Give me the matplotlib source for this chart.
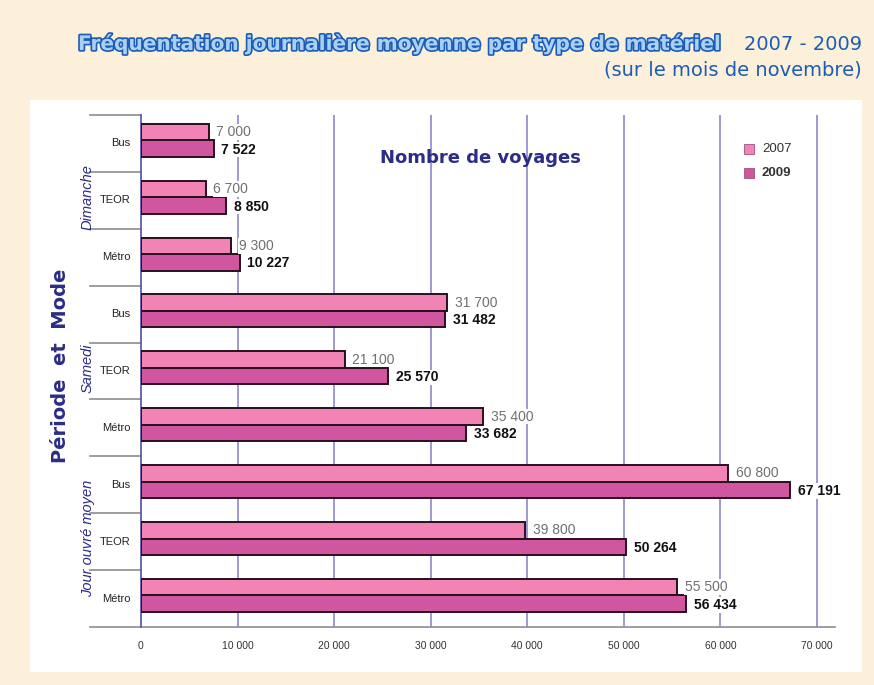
import matplotlib.pyplot as plt
import matplotlib.patheffects as pe
from matplotlib.patches import Rectangle

# data
periods = ['Dimanche', 'Samedi', 'Jour ouvré moyen']
modes = ['Bus', 'TEOR', 'Métro', 'Bus', 'TEOR', 'Métro', 'Bus', 'TEOR', 'Métro']
values_2007 = [7000, 6700, 9300, 31700, 21100, 35400, 60800, 39800, 55500]
values_2009 = [7522, 8850, 10227, 31482, 25570, 33682, 67191, 50264, 56434]
x_ticks = [0, 10000, 20000, 30000, 40000, 50000, 60000, 70000]
years = ['2007', '2009']

W, H = 874, 685
BG = '#fdf0da'
C07 = '#f283b5'
C09 = '#cf569f'
EDGE = '#2a0f1e'
GRID = '#8080c4'
NAVY = '#2b2c86'
ARIAL = 'Liberation Sans'


def fmt(v):
    return f"{v:,}".replace(',', ' ')


fig = plt.figure(figsize=(W / 100, H / 100), dpi=100, facecolor=BG)

# white panel
fig.patches.append(Rectangle((30 / W, 1 - 672 / H), 832 / W, 572 / H,
                             transform=fig.transFigure, facecolor='white',
                             edgecolor='none', zorder=-1))

# axes: x=0 at px 141, 70000 at px 817; right edge at px 835
x0, x70, xr = 141, 817, 835
top, bot = 115, 627
ax = fig.add_axes([x0 / W, 1 - bot / H, (xr - x0) / W, (bot - top) / H])
ax.set_zorder(2)
ax.set_facecolor('none')
ax.set_xlim(0, 70000 * (xr - x0) / (x70 - x0))
n = len(modes)
ax.set_ylim(n, 0)

for x in x_ticks[1:]:
    ax.axvline(x, color=GRID, lw=1.1, zorder=1)

h = 0.29
off = 0.055
for i in range(n):
    c = i + 0.5 - off
    ax.barh(c - h / 2, values_2007[i], height=h, color=C07, edgecolor=EDGE,
            lw=1.4, zorder=3)
    ax.barh(c + h / 2, values_2009[i], height=h, color=C09, edgecolor=EDGE,
            lw=1.4, zorder=3)
    ax.text(values_2007[i] + 800, c - h / 2, fmt(values_2007[i]), va='center',
            ha='left', fontsize=10, family=ARIAL, color='#707070', zorder=4,
            bbox=dict(facecolor='white', edgecolor='none', pad=0.5))
    ax.text(values_2009[i] + 800, c + h / 2 + 0.02, fmt(values_2009[i]),
            va='center', ha='left', fontsize=10, family=ARIAL,
            fontweight='bold', color='#111111', zorder=4,
            bbox=dict(facecolor='white', edgecolor='none', pad=0.5))

# spines and axis
for s in ['top', 'right', 'bottom']:
    ax.spines[s].set_visible(False)
ax.spines['left'].set_color('#5d5daa')
ax.spines['left'].set_linewidth(1.3)
ax.set_yticks([])
ax.set_xticks(x_ticks)
ax.set_xticklabels([fmt(v) for v in x_ticks], fontsize=7.5, family=ARIAL,
                   color='#333333')
ax.tick_params(axis='x', length=0, pad=10)

# separators on the left and bottom axis line
left_ext = -(x0 - 90) / (xr - x0)
trans = ax.get_yaxis_transform()
for k in range(n + 1):
    if k == n:
        ax.plot([left_ext, 1.0], [k, k], transform=trans, color='#8c8c8c',
                lw=1.2, clip_on=False, zorder=2)
    else:
        ax.plot([left_ext, 0], [k, k], transform=trans, color='#8c8c8c',
                lw=1.2, clip_on=False, zorder=2)

for i, m in enumerate(modes):
    ax.text(-0.015, i + 0.5, m, transform=trans, ha='right', va='center',
            fontsize=8, family=ARIAL, color='#222222')

for g, p in enumerate(periods):
    ax.text(-(x0 - 88) / (xr - x0), g * 3 + 1.45, p, transform=trans,
            rotation=90, ha='center', va='center', fontsize=10.5,
            family=ARIAL, style='italic', color=NAVY)

fig.text(60 / W, 1 - 366 / H, 'Période  et  Mode', rotation=90, ha='center',
         va='center', fontsize=14, fontweight='bold', color=NAVY)

fig.text(480 / W, 1 - 158 / H, 'Nombre de voyages', ha='center', va='center',
         fontsize=13, fontweight='bold', color=NAVY)

# legend
for j, (yr, col) in enumerate(zip(years, [C07, C09])):
    yy = 149 + j * 24
    fig.patches.append(Rectangle((744 / W, 1 - (yy + 5) / H), 10 / W, 10 / H,
                                 transform=fig.transFigure, facecolor=col,
                                 edgecolor='#a05080', lw=0.6, zorder=5))
    fig.text(762 / W, 1 - yy / H, yr, ha='left', va='center', fontsize=9.5,
             family=ARIAL, fontweight='bold' if j == 1 else 'normal',
             color='#333333')

# title
fig.text(78 / W, 1 - 44 / H, 'Fréquentation journalière moyenne par type de matériel',
         ha='left', va='center', fontsize=14.5, fontweight='bold', color='#a9d0f5',
         path_effects=[pe.Stroke(linewidth=2.4, foreground='#1c5cb4'), pe.Normal()])
fig.text(862 / W, 1 - 44 / H, '2007 - 2009', ha='right', va='center',
         fontsize=14, color='#1c5cb4')
fig.text(862 / W, 1 - 70 / H, '(sur le mois de novembre)', ha='right',
         va='center', fontsize=14, color='#1c5cb4')

fig.savefig('out.png', dpi=100, facecolor=BG)
